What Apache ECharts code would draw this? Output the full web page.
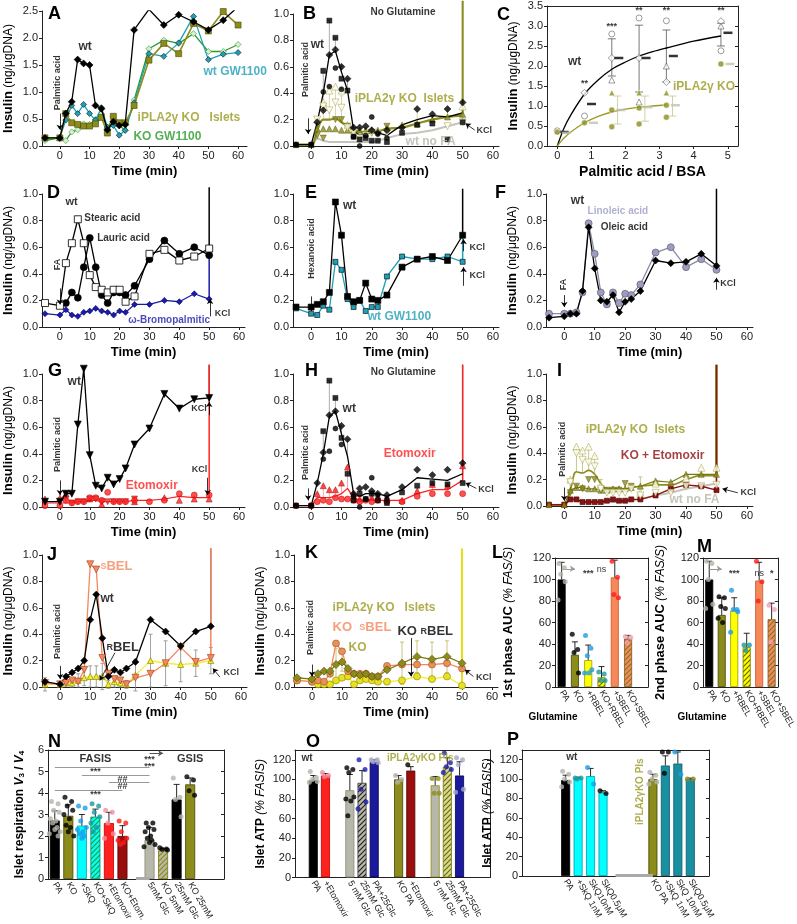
<!DOCTYPE html>
<html><head><meta charset="utf-8">
<script src="https://cdn.jsdelivr.net/npm/echarts@6/dist/echarts.min.js"></script>
<style>html,body{margin:0;padding:0;background:#fff}#c{width:797px;height:924px}</style>
</head><body><div id="c"></div>
<script>
const FONT = '"Liberation Sans", Arial, sans-serif';
const AX = '#222';
// ---------------- DATA ----------------
const T  = [-5,0,2,4,6,8,10,12,14,16,18,20,22,25,30,35,40,45,50];
const TA = [-5,0,2,4,6,8,10,12,14,16,18,20,22,25,30,35,40,45,50,55,60];
const timeTicks = [0,10,20,30,40,50,60];
// A
const A_wt   = [0.15,0.15,0.6,0.82,1.6,1.53,1.5,0.75,0.69,0.3,0.45,0.38,0.4,2.15,2.53,2.24,2.43,2.3,2.15,2.33,2.58];
const A_gw   = [0.15,0.15,0.48,0.75,0.6,0.77,0.6,0.48,0.71,0.35,0.38,0.2,0.29,0.8,1.71,1.66,1.91,2.4,1.6,1.7,1.73];
const A_ko   = [0.15,0.15,0.6,0.43,0.4,0.37,0.37,0.41,0.53,0.24,0.55,0.43,0.43,0.75,1.59,1.9,1.71,2.27,2.13,2.49,2.24];
const A_kogw = [0.1,0.15,0.1,0.26,0.3,0.41,0.4,0.49,0.6,0.32,0.54,0.38,0.29,0.85,1.8,1.96,1.9,2.08,1.75,1.75,1.88];
// B
const B_wt   = [0.01,0.01,0.18,0.4,0.69,0.72,0.56,0.42,0.12,0.08,0.1,0.12,0.1,0.08,0.16,0.2,0.23,0.22,0.25];
const B_wtSq = [0.01,0.01,null,0.57,0.95,0.82,0.51,0.42,0.07,0.05,0.06,0.04,0.04,0.03,0.1,0.16,0.17,0.05,0.18];
const B_wtDi = [null,null,0.18,0.27,0.69,0.73,0.6,0.51,0.14,0.14,0.15,0.12,0.1,0.12,0.14,0.28,0.24,0.28,0.33];
const B_wtCi = [0.01,0.01,null,0.41,0.45,0.59,0.43,null,0.07,0.0,0.08,0.22,0.09,0.06,null,null,null,null,null];
const B_wtHi = [null,null,null,0.55,0.95,0.82,0.61,0.51,null,null,null,null,null,null,null,null,null,null,null];
const B_ko   = [0.01,0.01,0.12,0.2,0.2,0.21,0.18,0.15,0.12,0.11,0.1,0.1,0.11,0.13,0.14,0.17,0.2,0.22,0.23];
const B_koTF = [0.01,0.01,0.13,0.13,0.13,0.13,0.12,0.12,0.12,0.12,0.12,0.12,0.12,0.14,0.16,0.17,0.2,0.22,0.24];
const B_koTO = [null,null,0.2,0.33,0.42,0.45,0.42,0.16,null,null,null,null,null,null,null,null,null,null,0.3];
const B_koDF = [null,null,0.08,0.06,null,0.2,0.2,0.15,0.12,null,null,0.1,null,0.15,null,null,null,null,null];
const B_koDO = [null,null,0.2,0.3,0.27,0.33,0.29,0.14,0.1,0.06,0.08,0.1,0.1,0.1,null,null,null,0.15,0.18];
const B_koHi = [null,null,0.2,0.43,0.45,0.45,0.38,null,null,null,null,null,null,null,null,0.28,null,0.28,null];
const B_nofa = [0.01,0.01,0.06,0.04,0.03,0.03,0.03,0.03,0.03,0.03,0.03,0.03,0.04,0.06,0.09,0.1,0.12,0.15,0.18];
// C
const C_x      = [0,0.8,1.6,2.4,3.2,4.8];
const C_wtCirc = [0.38,0.75,2.8,3.2,3.13,2.38];
const C_wtDia  = [null,1.33,2.2,2.2,1.6,3.12];
const C_wtTri  = [null,null,1.65,1.1,2.0,3.0];
const C_wtMean = [0.35,1.05,2.2,2.2,2.25,2.83];
const C_koCirc = [0.35,0.58,0.48,0.55,0.72,2.05];
const C_koCir2 = [null,null,0.9,0.95,1.02,null];
const C_koTri  = [null,null,1.33,1.33,1.33,null];
const C_koMean = [0.33,0.58,0.9,0.97,1.02,2.05];
const C_wtErrX = [1.6,2.4,3.2,4.8], C_wtErrLo = [1.75,1.35,1.6,2.5], C_wtErrHi = [2.68,3.02,2.9,3.07];
const C_koErrX = [1.77,2.57,3.38], C_koErrLo = [0.55,0.62,0.75], C_koErrHi = [1.25,1.25,1.25];
const C_fitX   = [0,0.2,0.4,0.8,1.2,1.6,2.0,2.4,2.8,3.2,4.0,4.8];
const C_fitWt  = [0,0.45,0.78,1.3,1.65,1.92,2.1,2.25,2.36,2.45,2.62,2.75];
const C_fitKoX = [0,0.2,0.4,0.8,1.2,1.6,2.0,2.4,2.8,3.2];
const C_fitKo  = [0,0.2,0.35,0.58,0.74,0.85,0.92,0.97,1.0,1.03];
// D
const D_st = [0.18,0.16,0.48,0.63,0.81,0.63,0.39,0.3,0.28,0.26,0.28,0.28,0.19,0.23,0.55,0.58,0.5,0.53,0.59];
const D_la = [null,null,0.18,0.26,0.22,0.45,0.67,0.45,0.24,0.18,0.26,0.26,0.24,0.31,0.51,0.65,0.55,0.6,0.54];
const D_br = [0.1,0.09,0.13,0.09,0.08,0.11,0.12,0.14,0.12,0.11,0.09,0.12,0.11,0.17,0.17,0.2,0.19,0.25,0.21];
// E
const E_wt = [0.15,0.15,0.17,0.19,0.26,0.94,0.69,0.23,0.19,0.2,0.33,0.21,0.2,0.24,0.45,0.51,0.53,0.5,0.69];
const E_gw = [0.14,0.1,0.09,0.16,0.13,0.49,0.43,0.21,0.15,0.2,0.12,0.15,0.15,0.38,0.53,0.51,0.51,0.53,0.49];
// F
const F_li = [0.1,0.1,0.1,0.11,0.26,0.78,0.55,0.26,0.17,0.26,0.18,0.25,0.24,0.32,0.56,0.6,0.45,0.51,0.43];
const F_ol = [0.07,0.08,0.1,0.1,0.27,0.75,0.44,0.2,0.19,0.24,0.11,0.19,0.21,0.27,0.5,0.48,0.49,0.55,0.46];
// G
const G_wt   = [0.04,0.04,0.1,0.1,0.62,1.04,0.39,0.16,0.14,0.22,0.17,0.21,0.29,0.47,0.59,0.85,0.74,0.81,0.82];
const G_eto  = [0.03,0.03,0.03,0.03,0.04,0.04,0.05,0.05,0.04,0.04,0.04,0.04,0.04,0.05,0.05,0.06,0.08,0.07,0.07];
const G_etoC = [0.01,0.01,0.05,0.03,0.04,0.04,0.07,0.07,0.05,0.11,0.04,0.04,0.04,0.05,0.04,0.05,0.1,0.09,0.09];
const G_etoT = [0.06,0.07,0.1,null,null,null,0.06,null,0.02,null,null,null,null,0.04,null,0.07,0.05,0.06,0.06];
const G_etoD = [null,null,0.06,0.03,0.04,0.04,0.06,0.06,0.04,0.04,0.04,0.04,0.04,0.06,null,null,null,null,null];
// H
const H_wt   = [0.01,0.01,0.18,0.4,0.68,0.72,0.55,0.38,0.1,0.08,0.1,0.1,0.1,0.08,0.13,0.22,0.21,0.2,0.25];
const H_wtSq = [0.01,0.01,null,0.57,0.95,0.82,0.52,0.25,0.05,0.1,0.06,0.1,0.05,0.03,0.11,0.16,0.18,0.17,0.18];
const H_wtDi = [null,null,0.18,0.41,0.69,0.72,0.61,0.51,0.1,0.14,0.15,0.12,0.1,0.09,0.15,0.28,0.24,0.28,0.33];
const H_wtCi = [0.01,0.01,null,0.36,0.42,0.59,0.47,null,0.08,0.0,0.06,0.22,0.09,0.06,null,null,null,null,null];
const H_wtHi = [null,null,null,0.57,0.95,0.82,0.61,0.51,null,null,null,null,null,null,null,null,null,null,null];
const H_eto  = [0.01,0.01,0.07,0.07,0.07,0.08,0.1,0.14,0.07,0.05,0.05,0.05,0.05,0.05,0.05,0.1,0.13,0.13,0.2];
const H_etoT = [null,null,0.1,0.16,0.13,0.13,0.18,0.3,0.1,0.06,null,0.07,0.07,0.06,0.05,0.12,0.17,0.16,0.31];
const H_etoC = [0.01,0.01,0.04,0.05,0.04,0.07,0.06,0.06,0.05,0.04,0.05,0.04,0.05,0.04,0.04,0.08,0.1,0.1,0.1];
// I
const I_ko   = [0.01,0.01,0.12,0.26,0.25,0.27,0.24,0.17,0.13,0.13,0.13,0.13,0.14,0.15,0.16,0.16,0.2,0.23,0.23];
const I_koTF = [0.01,0.01,0.12,0.14,0.14,0.13,0.13,0.12,0.12,0.13,0.13,0.13,0.14,0.15,0.19,0.18,0.24,0.24,0.24];
const I_koDF = [null,null,0.1,0.15,0.13,0.2,0.2,0.12,0.12,0.12,0.12,0.17,0.15,null,null,null,null,null,null];
const I_koTO = [null,null,0.2,0.45,0.42,0.45,0.38,0.15,null,null,null,null,null,0.1,0.17,null,0.21,0.29,0.29];
const I_koDO = [null,null,0.18,0.4,0.35,0.33,0.3,0.13,0.1,0.1,0.1,0.1,0.13,0.08,0.1,0.1,0.15,0.15,0.16];
const I_koHi = [null,null,0.2,0.45,0.42,0.45,0.38,0.2,null,null,null,null,null,0.22,null,null,null,0.29,0.3];
const I_keto = [0.01,0.01,0.05,0.05,0.03,0.03,0.03,0.03,0.04,0.05,0.04,0.04,0.05,0.05,0.08,0.13,0.16,0.15,0.12];
const I_nofa = [0.01,0.01,0.06,0.04,0.03,0.03,0.03,0.03,0.03,0.03,0.03,0.03,0.04,0.05,0.08,0.1,0.13,0.15,0.17];
// J
const J_wt   = [0.04,0.02,0.08,0.11,0.14,0.2,0.51,0.7,0.37,0.08,0.13,0.11,0.14,0.19,0.51,0.42,0.31,0.42,0.46];
const J_sbel = [0.03,0.02,0.03,0.05,0.04,0.13,0.93,0.89,0.22,0.1,0.06,0.05,0.02,0.07,0.1,0.18,0.3,0.19,0.22];
const J_rbel = [0.02,0.02,0.03,0.03,0.05,0.07,0.08,0.08,0.08,0.02,0.04,0.03,0.02,0.09,0.2,0.18,0.17,0.18,0.2];
const J_rErr = [0.05,0.02,0.02,0.03,0.05,0.06,0.08,0.08,0.1,0.03,0.04,0.03,0.03,0.12,0.2,0.17,0.13,0.1,0.1];
// K
const K_ko   = [0.07,0.06,0.1,0.12,0.12,0.17,0.19,0.14,0.1,0.09,0.1,0.08,0.08,0.13,0.18,0.23,0.21,0.23,0.18];
const K_sbel = [0.05,0.04,0.05,0.04,0.1,0.33,0.27,0.12,0.1,0.1,0.1,0.08,0.08,0.16,0.17,0.17,0.17,0.18,0.14];
const K_rbel = [0.05,0.04,0.02,0.02,0.02,0.05,0.07,0.08,0.02,0.05,0.06,0.05,0.04,0.04,0.05,0.08,0.06,0.08,0.01];
const K_kErr = [null,null,null,null,null,0.12,0.07,null,null,null,null,null,null,null,0.16,0.12,0.13,0.12,null];
// L, M
const L_cats = ['PA','KO','+RBEL','KO+RBEL','+SBEL','KO+SBEL',' '];
const L_mean = [100,30,25,9,102,45,null];
const L_err  = [116,42,39,19,118,48,null];
const L_dots = [[115,111,105,98,81],[49,35,32,13],[48,36,29,16,13,13],[14,12,6,6],[117,102,86,83],[47,46,41],[]];
const M_cats = ['PA','KO','+RBEL','KO+RBEL','+SBEL','KO+SBEL'];
const M_mean = [100,67,71,37,99,63];
const M_err  = [117,83,83,50,116,78];
const M_dots = [[117,115,100,77,73],[84,83,75,73,64,60],[90,72,72,70,51],[39,39,34],[117,98,80],[76,72,42]];
// N
const N_cats = ['PA','KO','+SkQ','KO+SkQ','+Etomoxir','KO+Etom.',' ','5mM Glc','KO 5mM','25mM Glc','KO 25mM','  ','   '];
const N_mean = [2.72,2.94,2.48,2.9,2.6,2.0,null,1.82,1.33,3.7,4.4,null,null];
const N_err  = [3.17,3.45,3.0,3.25,3.1,2.48,null,2.4,1.41,4.4,4.7,null,null];
const N_dots = [[3.6,3.5,3.2,3.1,2.8,2.7,2.6,2.4,2.3,2.2,2.1,2.0],[3.8,3.6,3.4,3.2,3.0,2.8,2.5,2.4,2.2,2.0],
  [3.4,3.3,2.7,2.4,2.3,2.2,2.1,2.0,1.9],[3.5,3.4,3.1,2.9,2.6,2.4,2.2],[3.2,3.1,2.6,2.1,1.9],[2.7,2.6,2.2,1.9,1.8,1.7,1.6],[],
  [2.6,2.6,2.4,2.3,2.2,2.0,1.9,1.8,1.7,1.6,1.5],[1.45,1.4,1.38,1.35],[4.7,3.8,3.7,2.9],[4.75,4.6,4.1,3.9],[],[]];
// O
const O_cats = [' ','PA','+Etomoxir','  ','5 mM Glc','25mM Glc','PA+25Glc','   ','KO PA','+Etomoxir ','    ','5 mM Glc ','25mM Glc ','PA+25Glc ','     ','      '];
const O_mean = [null,99,104,null,89,96.5,117.5,null,100,109,null,94,113,104,null,null];
const O_err  = [null,104,106,null,105,109,120,null,104,113,null,103,122,118,null,null];
const O_dots = [[],[108,102,100,98,97],[107,104,103],[],[112,110,107,82,80,78,63],[120,110,90,77,70],[120,120,118,117],[],
  [104,100,97],[115],[],[101,101,86,86],[127,117,113,110,107],[122,120,115,90,87],[],[]];
// P
const P_cats = [' ','  ','   ','PA','+SkQ 1nM','SkQ10nM','SkQ0.5μM','    ','     ','      ','KO PA','+SkQ 1nM ','SkQ 10nM','SkQ0.5μM ','       '];
const P_mean = [null,null,null,99,101,103,86,null,null,null,100,114,116,100,null];
const P_err  = [null,null,null,104,102,111,88,null,null,null,105,124,128,101,null];
const P_dots = [[],[],[],[108,105,100,97,92],[101,101,100],[112,95],[88,85],[],[],[],[107,104,100,97,95],[128,128,106],[128,105],[100,100],[]];
const ATP_ticks = [0,20,40,60,80,100,120];

// ---------------- STYLE ----------------
const BLK='#000', OLV='#8c8c1c', OLVT='#9a9a22', CYN='#1f9fb8', GRN='#2a9a2a', GRY='#c4c4bc', BLU='#1c1ca8',
      RED='#ff2424', DRED='#8e1010', ORG='#f6875d', YEL='#f2ee2c', LAV='#9c9cc4', DGR='#b5b5aa';
function hatch(bg, fg){
  const c=document.createElement('canvas'); c.width=5; c.height=5; const g=c.getContext('2d');
  g.fillStyle=bg; g.fillRect(0,0,5,5); g.strokeStyle=fg; g.lineWidth=1.2;
  g.beginPath(); g.moveTo(0,5); g.lineTo(5,0); g.moveTo(-1,1); g.lineTo(1,-1); g.moveTo(4,6); g.lineTo(6,4); g.stroke();
  return {image:c, repeat:'repeat'};
}

const grids=[], xAxes=[], yAxes=[], series=[], graphics=[];
const labelStyle={fontSize:11, color:'#222', fontFamily:FONT};
const VERT={rotate:90, position:'inside', align:'center', verticalAlign:'middle', fontSize:9};
const CEN={position:'inside', align:'center', verticalAlign:'middle'};
function grid(l,t,w,h){ grids.push({left:l, top:t, width:w, height:h, containLabel:false}); return grids.length-1; }
function insName(gap){ return {name:'{b|Insulin} {n|(ng/μgDNA)}', nameLocation:'middle', nameGap:gap, nameRotate:90,
  nameTextStyle:{color:'#000', fontFamily:FONT, rich:{b:{fontWeight:'bold',fontSize:13,fontFamily:FONT,color:'#000'}, n:{fontSize:12,fontFamily:FONT,color:'#000'}}}}; }
function boxAxes(gi, ymax, yint, yticks){
  xAxes.push({gridIndex:gi, type:'value', position:'top', min:0, max:1, axisLine:{show:true,onZero:false,lineStyle:{color:AX}}, axisTick:{show:false}, axisLabel:{show:false}, splitLine:{show:false}});
  const t={show:true, inside:true, length:3, lineStyle:{color:AX}}; if (yticks) t.customValues=yticks;
  yAxes.push({gridIndex:gi, type:'value', position:'right', min:0, max:ymax, interval:yint, axisLine:{show:true,onZero:false,lineStyle:{color:AX}}, axisTick:t, axisLabel:{show:false}, splitLine:{show:false}});
}
function tcPanel(l,t,w,h,o){
  const gi=grid(l,t,w,h), xi=xAxes.length, yi=yAxes.length;
  const xt=o.xticks||timeTicks;
  xAxes.push({gridIndex:gi, type:'value', min:o.xmin==null?-6:o.xmin, max:o.xmax==null?62:o.xmax, position:'bottom',
    axisLine:{show:true,onZero:false,lineStyle:{color:AX,width:1}},
    axisTick:{show:true,length:3,customValues:xt,lineStyle:{color:AX}},
    axisLabel:Object.assign({customValues:xt, margin:4}, labelStyle), splitLine:{show:false},
    name:o.xname||'Time (min)', nameLocation:'middle', nameGap:o.xgap||19,
    nameTextStyle:{fontWeight:'bold', fontSize:o.xnfs||13, color:'#000', fontFamily:FONT}});
  const ya={gridIndex:gi, type:'value', min:0, max:o.ymax||1, interval:o.yint||0.2, position:'left',
    axisLine:{show:true,onZero:false,lineStyle:{color:AX,width:1}}, axisTick:{show:true,length:3,lineStyle:{color:AX}},
    axisLabel:Object.assign({margin:4, formatter:v=>v.toFixed(1)}, labelStyle), splitLine:{show:false}};
  if (o.yname) Object.assign(ya, insName(o.ygap||27));
  yAxes.push(ya);
  if (o.box) boxAxes(gi, o.ymax, o.yint);
  return {xi, yi};
}
function pts(xs, ys){ const r=[]; xs.forEach((x,i)=>{ if (ys[i]!=null) r.push([x,ys[i]]); }); return r; }
function Ln(ax, xs, ys, o){
  series.push({type:'line', xAxisIndex:ax.xi, yAxisIndex:ax.yi, data:pts(xs,ys), animation:false, silent:true,
    symbol:o.sym||'none', symbolSize:o.size||6, symbolRotate:o.rot||0, smooth:o.smooth||false,
    lineStyle:{color:o.color, width:o.w||1.3}, itemStyle:{color:o.fill||o.color, borderColor:o.border||'#000', borderWidth:o.bw==null?0.6:o.bw},
    z:o.z||3, clip:o.clip===undefined?true:o.clip});
}
function Sc(ax, xs, ys, o){
  const s={type:'scatter', xAxisIndex:ax.xi, yAxisIndex:ax.yi, data:pts(xs,ys), animation:false, silent:true,
    symbol:o.sym||'circle', symbolSize:o.size||6, symbolRotate:o.rot||0,
    itemStyle:{color:o.fill||o.color, borderColor:o.border||'#000', borderWidth:o.bw==null?0.6:o.bw}, z:o.z||4, clip:false};
  if (o.off) s.symbolOffset=o.off;
  series.push(s);
}
function Er(ax, xs, lo, hi, o){
  const d=[]; xs.forEach((x,i)=>{ if (lo[i]!=null && hi[i]!=null) d.push([x,lo[i],hi[i]]); });
  series.push({type:'custom', xAxisIndex:ax.xi, yAxisIndex:ax.yi, data:d, silent:true, animation:false, z:o.z||2, clip:false,
    encode:{x:0, y:[1,2]},
    renderItem:(p,api)=>{ const x=api.value(0); const a=api.coord([x,api.value(1)]), b=api.coord([x,api.value(2)]); const c=o.cap||2;
      const st={stroke:o.color, lineWidth:o.w||0.8};
      const ch=[{type:'line', shape:{x1:a[0],y1:a[1],x2:b[0],y2:b[1]}, style:st},
                {type:'line', shape:{x1:b[0]-c,y1:b[1],x2:b[0]+c,y2:b[1]}, style:st}];
      if (o.both) ch.push({type:'line', shape:{x1:a[0]-c,y1:a[1],x2:a[0]+c,y2:a[1]}, style:st});
      return {type:'group', children:ch}; }});
}
function spike(ax, x, y1, y2, color, w, z){ Ln(ax, [x,x], [y1,y2], {color, w:w||1.5, clip:false, z:z||2}); }
function notes(ax, items, arrows){
  const s={type:'scatter', xAxisIndex:ax.xi, yAxisIndex:ax.yi, silent:true, animation:false, clip:false, symbolSize:1, z:10,
    itemStyle:{color:'rgba(0,0,0,0)'},
    data:items.map(it=>({value:[it[0],it[1]], label:Object.assign({show:true, formatter:it[2], position:'right', distance:0,
      fontFamily:FONT, fontWeight:'bold', fontSize:12, color:'#000'}, it[3]||{})}))};
  if (arrows && arrows.length) s.markLine={silent:true, animation:false, symbolSize:5, precision:4, label:{show:false},
    lineStyle:{color:'#000', width:0.8, type:'solid'},
    data:arrows.map(a=>[{coord:[a[0],a[1]], symbol:'none', lineStyle:{color:a[4]||'#000', width:a[6]||(a[4]?1:0.8), type:'solid'}},
                        {coord:[a[2],a[3]], symbol:a[5]?'none':'arrow'}])};
  series.push(s);
}
function jit(k){ const p=[-3,3,-1,4,-4,1,-2,2,0,5,-5,3]; return p[k%p.length]; }
function barPanel(l,t,w,h,o){
  const gi=grid(l,t,w,h), xi=xAxes.length, yi=yAxes.length;
  xAxes.push({gridIndex:gi, type:'category', data:o.cats, position:'bottom', boundaryGap:true,
    axisLine:{show:true,onZero:false,lineStyle:{color:AX}}, axisTick:{show:false},
    axisLabel:{interval:0, rotate:-60, fontSize:9, color:'#222', fontFamily:FONT, margin:4}, splitLine:{show:false}});
  const tk={show:true,length:3,lineStyle:{color:AX}}, lb=Object.assign({margin:4}, labelStyle);
  if (o.yticks){ tk.customValues=o.yticks; lb.customValues=o.yticks; }
  yAxes.push({gridIndex:gi, type:'value', min:0, max:o.ymax, interval:o.yint, position:'left',
    axisLine:{show:true,onZero:false,lineStyle:{color:AX}}, axisTick:tk, axisLabel:lb, splitLine:{show:false},
    name:o.yname, nameLocation:'middle', nameGap:o.ygap, nameRotate:90, nameTextStyle:{color:'#000', fontFamily:FONT, rich:o.rich}});
  boxAxes(gi, o.ymax, o.yint, o.yticks);
  const ax={xi, yi};
  series.push({type:'bar', xAxisIndex:xi, yAxisIndex:yi, barWidth:o.bw, animation:false, silent:true, z:2,
    data:o.mean.map((v,i)=> v==null?'-':{value:v, itemStyle:{color:o.fill[i], borderColor:o.border[i], borderWidth:0.8}})});
  const idx=o.cats.map((c,i)=>i);
  Er(ax, idx, o.mean, o.err, {color:'#111', cap:3, w:0.9, z:3});
  const dd=[]; o.dots.forEach((arr,i)=>arr.forEach((v,k)=>dd.push({value:[i,v], symbolOffset:[jit(k)*o.jw,0], itemStyle:{color:o.dotc[i]}})));
  series.push({type:'scatter', xAxisIndex:xi, yAxisIndex:yi, data:dd, symbolSize:o.ds||5, animation:false, silent:true, clip:false,
    itemStyle:{borderWidth:0}, z:5});
  return ax;
}

// ---------------- PANELS ----------------
// A
const pA = tcPanel(42, 11, 205, 135, {xmax:63, ymax:2.5, yint:0.5, yname:true});
Ln(pA, TA, A_wt,   {color:BLK, sym:'diamond', size:7, fill:BLK, z:5});
Ln(pA, TA, A_gw,   {color:CYN, sym:'diamond', size:6, fill:CYN, border:'#111', z:4});
Ln(pA, TA, A_kogw, {color:GRN, sym:'diamond', size:6, fill:'#d8f0d0', border:GRN, z:3});
Ln(pA, TA, A_ko,   {color:OLV, w:1.6, sym:'rect', size:6, fill:OLV, border:'#4a4a00', z:4});
notes(pA, [[6.1,1.83,'wt'],[48.2,1.37,'wt GW1100',{color:CYN}],[26,0.52,'iPLA2γ KO   Islets',{color:OLVT}],
  [24.6,0.17,'KO GW1100',{color:GRN}],[-0.7,1.17,'Palmitic acid',VERT]], [[0,0.6,0,0.3]]);

// B
const pB = tcPanel(293, 14, 206, 132, {});
spike(pB, 50, 0.18, 1.1, GRY, 1.5, 1); spike(pB, 50, 0.24, 1.1, OLV, 2, 2);
Ln(pB, T, B_nofa, {color:GRY, w:2, z:1});
Er(pB, T, B_wt, B_wtHi, {color:'#999', cap:0});
Er(pB, T, B_ko, B_koHi, {color:'#cccc99', cap:0});
Ln(pB, T, B_ko, {color:OLV, w:2.2, smooth:0.4, z:3});
Ln(pB, T, B_wt, {color:BLK, w:1.3, z:3});
Sc(pB, T, B_koTF, {sym:'triangle', size:6, fill:OLV, border:'#555500'});
Sc(pB, T, B_koTO, {sym:'triangle', size:7, fill:'#fff', border:OLVT});
Sc(pB, T, B_koDF, {sym:'triangle', rot:180, size:6, fill:OLV, border:'#555500'});
Sc(pB, T, B_koDO, {sym:'triangle', rot:180, size:7, fill:'#fff', border:OLVT});
Sc(pB, T, B_wtSq, {sym:'rect', size:5, fill:BLK});
Sc(pB, T, B_wtDi, {sym:'diamond', size:7, fill:BLK});
Sc(pB, T, B_wtCi, {sym:'circle', size:5, fill:BLK});
notes(pB, [[30.3,1.015,'No Glutamine',Object.assign({fontSize:10},CEN)],[-0.3,0.77,'wt'],[-2,0.58,'Palmitic acid',VERT],
  [14.2,0.36,'iPLA2γ KO  Islets',{color:OLVT}],[54.4,0.12,'KCl',{fontSize:9}],[31,0.03,'wt no FA',{color:DGR}]],
  [[-1,0.21,-1,0.09],[54,0.12,51,0.17]]);

// C
const pC = tcPanel(547, 6, 191, 140, {xmin:-0.3, xmax:5.3, xticks:[0,1,2,3,4,5], ymax:3.5, yint:0.5, yname:true, box:true,
  xname:'Palmitic acid / BSA', xnfs:14});
Ln(pC, C_fitX, C_fitWt, {color:BLK, w:1.3, smooth:0.3});
Ln(pC, C_fitKoX, C_fitKo, {color:OLVT, w:1.3, smooth:0.3});
Er(pC, C_wtErrX, C_wtErrLo, C_wtErrHi, {color:'#555', cap:4, both:true});
Er(pC, C_koErrX, C_koErrLo, C_koErrHi, {color:'#c4c490', cap:4, both:true});
Sc(pC, C_x, C_wtCirc, {sym:'circle', size:6, fill:'#fff', border:'#333'});
Sc(pC, C_x, C_wtDia,  {sym:'diamond', size:7, fill:'#fff', border:'#333'});
Sc(pC, C_x, C_wtTri,  {sym:'triangle', size:6, fill:'#fff', border:'#333'});
Sc(pC, C_x, C_wtMean, {sym:'rect', size:[9,2.5], fill:BLK, bw:0, off:[7,0]});
Sc(pC, C_x, C_koCirc, {sym:'circle', size:6, fill:OLV, border:'#fff'});
Sc(pC, C_x, C_koCir2, {sym:'circle', size:6, fill:OLV, border:'#fff'});
Sc(pC, C_x, C_koTri,  {sym:'triangle', size:6, fill:OLV, border:'#fff'});
Sc(pC, C_x, C_koMean, {sym:'rect', size:[9,2.5], fill:'#c0c0b0', bw:0, off:[9,0]});
const STAR=Object.assign({fontSize:9},CEN);
notes(pC, [[0.3,2.1,'wt'],[3.38,1.48,'iPLA2γ KO',{color:OLVT}],[0.8,1.55,'**',STAR],[1.6,2.98,'***',STAR],
  [2.4,3.38,'**',STAR],[3.2,3.38,'**',STAR],[4.8,3.38,'**',STAR]]);

// D
const pD = tcPanel(42, 194, 203, 133, {yname:true});
spike(pD, 50, 0.21, 0.55, BLU, 1.5); spike(pD, 50, 0.55, 1.05, BLK, 1.5);
Ln(pD, T, D_br, {color:BLU, sym:'diamond', size:6, fill:BLU, border:'#000066'});
Ln(pD, T, D_la, {color:BLK, sym:'circle', size:7, fill:BLK});
Ln(pD, T, D_st, {color:BLK, sym:'rect', size:7, fill:'#fff', border:'#000', bw:0.8});
notes(pD, [[1.7,0.94,'wt',{fontSize:11}],[8,0.82,'Stearic acid',{fontSize:10}],[12.3,0.67,'Lauric acid',{fontSize:10}],
  [-0.7,0.47,'FA',VERT],[22.7,0.05,'ω-Bromopalmitic',{fontSize:10,color:BLU}],[51.7,0.1,'KCl',{fontSize:9}]],
  [[0,0.29,0,0.17],[50.3,0.08,50.3,0.21]]);

// E
const pE = tcPanel(293, 194, 206, 133, {});
spike(pE, 50, 0.49, 0.69, CYN, 1.5); spike(pE, 50, 0.69, 1.04, BLK, 1.5);
Ln(pE, T, E_gw, {color:CYN, sym:'rect', size:5, fill:CYN, border:'#000'});
Ln(pE, T, E_wt, {color:BLK, sym:'rect', size:6, fill:BLK});
notes(pE, [[10.3,0.91,'wt'],[0,0.59,'Hexanoic acid',VERT],[52.1,0.6,'KCl',{fontSize:9}],[52.1,0.39,'KCl',{fontSize:9}],
  [18.5,0.075,'wt GW1100',{color:CYN}]], [[0,0.23,0,0.12],[50.3,0.57,50.3,0.66],[50.3,0.31,50.3,0.45]]);

// F
const pF = tcPanel(546, 194, 207, 133, {yname:true});
spike(pF, 50, 0.46, 1.04, BLK, 1.5);
Ln(pF, T, F_li, {color:'#8a8aaa', sym:'circle', size:7, fill:LAV, border:'#555'});
Ln(pF, T, F_ol, {color:BLK, sym:'diamond', size:7, fill:BLK});
notes(pF, [[2,0.95,'wt'],[7.5,0.87,'Linoleic acid',{fontSize:10,color:LAV}],[11.8,0.75,'Oleic acid',{fontSize:10}],
  [-0.3,0.32,'FA',VERT],[51.1,0.33,'KCl',{fontSize:9}]], [[0,0.24,0,0.15],[50,0.28,50,0.37]]);

// G
const pG = tcPanel(42, 374, 203, 133, {yname:true});
spike(pG, 50, 0.82, 1.07, BLK, 1); spike(pG, 50, 0.07, 1.07, RED, 1.5);
Ln(pG, T, G_eto, {color:RED, w:1.2});
Sc(pG, T, G_etoT, {sym:'triangle', size:6, fill:RED, border:'#900'});
Sc(pG, T, G_etoD, {sym:'triangle', rot:180, size:6, fill:RED, border:'#900'});
Sc(pG, T, G_etoC, {sym:'circle', size:6, fill:RED, border:'#b00'});
Ln(pG, T, G_wt, {color:BLK, sym:'triangle', rot:180, size:7, fill:BLK, clip:false, z:5});
notes(pG, [[2.4,0.94,'wt'],[-0.7,0.47,'Palmitic acid',VERT],[21.9,0.16,'Etomoxir',{color:RED}],
  [43.8,0.74,'KCl',{fontSize:9}],[44,0.28,'KCl',{fontSize:9}]], [[0,0.2,0,0.09],[50,0.69,50,0.79],[49.5,0.22,49.5,0.09]]);

// H
const pH = tcPanel(293, 374, 206, 133, {});
spike(pH, 50, 0.25, 1.07, BLK, 1); spike(pH, 50, 0.2, 1.07, RED, 1.5);
Er(pH, T, H_wt, H_wtHi, {color:'#999', cap:0});
Er(pH, T, H_eto, H_etoT, {color:'#f09090', cap:0});
Ln(pH, T, H_eto, {color:RED, w:1.3});
Ln(pH, T, H_wt, {color:BLK, w:1.3});
Sc(pH, T, H_etoT, {sym:'triangle', size:6, fill:RED, border:'#900'});
Sc(pH, T, H_etoC, {sym:'circle', size:6, fill:RED, border:'#b00'});
Sc(pH, T, H_wtSq, {sym:'rect', size:5, fill:BLK});
Sc(pH, T, H_wtDi, {sym:'diamond', size:7, fill:BLK});
Sc(pH, T, H_wtCi, {sym:'circle', size:5, fill:BLK});
notes(pH, [[30.4,1.015,'No Glutamine',Object.assign({fontSize:10},CEN)],[10.2,0.74,'wt'],[-2,0.41,'Palmitic acid',VERT],
  [23.8,0.4,'Etomoxir',{color:RED}],[55,0.135,'KCl',{fontSize:9}]], [[-1,0.14,-1,0.05],[54.5,0.14,51,0.18]]);

// I
const pI = tcPanel(546, 374, 207, 132, {yname:true});
spike(pI, 50, 0.17, 1.07, GRY, 1.5, 1); spike(pI, 50, 0.12, 1.07, DRED, 1.5, 2); spike(pI, 50, 0.23, 1.07, OLV, 2.5, 1);
Ln(pI, T, I_nofa, {color:GRY, w:2, z:1});
Er(pI, T, I_ko, I_koHi, {color:'#b8b870', cap:2});
Ln(pI, T, I_ko, {color:OLV, w:1.6, smooth:0.4});
Ln(pI, T, I_koTF, {color:'#7a7a10', w:1.2});
Ln(pI, T, I_keto, {color:DRED, w:1.4, sym:'rect', size:5, fill:DRED, border:'#400'});
Sc(pI, T, I_koTF, {sym:'triangle', size:6, fill:OLV, border:'#555500'});
Sc(pI, T, I_koDF, {sym:'triangle', rot:180, size:6, fill:OLV, border:'#555500'});
Sc(pI, T, I_koTO, {sym:'triangle', size:7, fill:'#fff', border:OLVT});
Sc(pI, T, I_koDO, {sym:'triangle', rot:180, size:7, fill:'#fff', border:OLVT});
notes(pI, [[6.9,0.58,'iPLA2γ KO  Islets',{color:OLVT}],[18.4,0.38,'KO + Etomoxir',{color:DRED}],[-0.7,0.43,'Palmitic acid',VERT],
  [57.7,0.1,'KCl',{fontSize:9}],[34.4,0.045,'wt no FA',{color:DGR}]], [[0,0.14,0,0.04],[57,0.1,52,0.13]]);

// J
const pJ = tcPanel(42, 555, 205, 132, {yname:true});
spike(pJ, 50, 0.46, 1.05, BLK, 1); spike(pJ, 50, 0.22, 1.05, ORG, 1.5);
Er(pJ, T, J_rbel.map((v,i)=>v-J_rErr[i]), J_rbel.map((v,i)=>v+J_rErr[i]), {color:'#888', cap:2, both:true});
Ln(pJ, T, J_rbel, {color:YEL, w:1.3, sym:'triangle', size:6, fill:YEL, border:'#777700'});
Ln(pJ, T, J_sbel, {color:ORG, w:1.3, sym:'triangle', rot:180, size:7, fill:ORG, border:'#a04020'});
Ln(pJ, T, J_wt, {color:BLK, w:1.3, sym:'diamond', size:7, fill:BLK});
const richO={s:{fontSize:9,fontWeight:'bold',fontFamily:FONT,color:ORG}, b:{fontSize:13,fontWeight:'bold',fontFamily:FONT,color:ORG}};
const richK={s:{fontSize:9,fontWeight:'bold',fontFamily:FONT,color:'#000'}, b:{fontSize:13,fontWeight:'bold',fontFamily:FONT,color:'#000'}};
notes(pJ, [[13.2,0.91,'{s|S}{b|BEL}',{rich:richO}],[13.2,0.67,'wt'],[15.2,0.3,'{s|R}{b|BEL}',{rich:richK}],
  [-0.7,0.42,'Palmitic acid',VERT],[54,0.11,'KCl',{fontSize:9}]], [[18.2,0.26,13.2,0.05],[53,0.075,50.7,0.14],[0,0.16,0,0.06]]);

// K
const pK = tcPanel(294, 555, 204, 132, {yname:true});
spike(pK, 50, 0.01, 1.05, '#e6de10', 2);
Er(pK, T, K_ko.map((v,i)=>K_kErr[i]==null?null:v-K_kErr[i]), K_ko.map((v,i)=>K_kErr[i]==null?null:v+K_kErr[i]), {color:'#b8b860', cap:2, both:true});
Ln(pK, T, K_rbel, {color:YEL, w:1.3, sym:'circle', size:7, fill:'#e8e020', border:'#888800'});
Ln(pK, T, K_sbel, {color:ORG, w:1.3, sym:'circle', size:7, fill:'#e8905a', border:'#a05020'});
Ln(pK, T, K_ko, {color:'#7c7c10', w:1.3, sym:'diamond', size:8, fill:'#8c8c1c', border:'#4a4a00'});
notes(pK, [[6.7,0.6,'iPLA2γ KO   Islets',{color:OLVT}],[6.7,0.45,'{b|KO  }{s|S}{b|BEL}',{rich:richO}],
  [28.3,0.42,'{b|KO }{s|R}{b|BEL}',{rich:richK}],[12,0.3,'KO',{color:OLVT}],[-0.5,0.45,'Palmitic acid',VERT],[54.5,0.07,'KCl',{fontSize:9}]],
  [[33,0.37,33,0.08],[53.8,0.08,51,0.13],[0,0.17,0,0.08]]);

// L, M
const aucRich={b:{fontWeight:'bold',fontSize:13,fontFamily:FONT,color:'#000'}, i:{fontStyle:'italic',fontSize:12,fontFamily:FONT,color:'#000'}};
const LM_fill=[BLK,OLV,'#ffff00',hatch('#ffff00','#6a6a00'),'#f8885a',hatch('#f8885a','#7a7a20'),BLK];
const LM_bord=['#000','#444400','#999900','#777700','#c05a30','#7a5a20','#000'];
const LM_dotc=['#b4b4aa','#000','#1e9be8','#1a9aa0','#ff1a1a','#f4a0b4','#000'];
const pL = barPanel(555, 558, 93, 129, {cats:L_cats, mean:L_mean, err:L_err, dots:L_dots, ymax:120, yint:20,
  yname:'{b|1st phase AUC} {i|(% FAS/S)}', rich:aucRich, ygap:40, fill:LM_fill, border:LM_bord, dotc:LM_dotc, bw:8, jw:0.9, ds:5});
notes(pL, [[1.55,106,'***',STAR],[3.45,109,'ns',Object.assign({fontSize:9,fontWeight:'normal'},CEN)]], [[0.15,110,1.0,110,'#999']]);
const pM = barPanel(703, 558, 83, 129, {cats:M_cats, mean:M_mean, err:M_err, dots:M_dots, ymax:120, yint:20,
  yname:'{b|2nd phase AUC} {i|(% FAS/S)}', rich:aucRich, ygap:36, fill:LM_fill, border:LM_bord, dotc:LM_dotc, bw:8, jw:0.9, ds:5});
notes(pM, [[1.6,106,'***',STAR],[3.5,106,'ns',Object.assign({fontSize:9,fontWeight:'normal'},CEN)],[4.75,106,'*',STAR]], [[0.15,110,1.0,110,'#999']]);

// N
const nRich={b:{fontWeight:'bold',fontSize:12,fontFamily:FONT,color:'#000'}, i:{fontWeight:'bold',fontStyle:'italic',fontSize:12,fontFamily:FONT,color:'#000'},
  s:{fontWeight:'bold',fontSize:8,fontFamily:FONT,color:'#000',verticalAlign:'bottom'}};
const N_fill=[BLK,OLV,'#00ffff',hatch('#00ffff','#2a9a2a'),'#ff2020','#9a0e0e',null,'#b8b8aa',hatch('#b8b8aa','#8a8a10'),BLK,OLV,null,null];
const N_bord=['#000','#444400','#0099aa','#0a8a6a','#b00','#500','#000','#888878','#777700','#000','#444400','#000','#000'];
const N_dotc=['#b4b4aa','#000','#1e9be8','#1a9aa0','#f48ca0','#ff1a1a','#000','#000','#000','#b4b4aa','#000','#000','#000'];
const pN = barPanel(48, 750, 176, 131, {cats:N_cats, mean:N_mean, err:N_err, dots:N_dots, ymax:6, yint:1,
  yname:'{b|Islet respiration }{i|V}{s|3}{b| / }{i|V}{s|4}', rich:nRich, ygap:22, fill:N_fill, border:N_bord, dotc:N_dotc, bw:10, jw:1.1, ds:5});
notes(pN, [[2.75,5.59,'FASIS',Object.assign({fontSize:11},CEN)],[9.56,5.59,'GSIS',Object.assign({fontSize:11},CEN)],
  [3.1,5.0,'***',STAR],[5.0,4.64,'##',STAR],[5.2,4.32,'##',STAR],[2.75,3.95,'***',STAR],[6.66,5.55,'***',STAR],[7.48,5.24,'***',STAR]],
  [[0,5.18,7,5.18,'#999',1],[2,4.81,7,4.81,'#999',1],[4,4.49,7,4.49,'#999',1],[0,4.12,5,4.12,'#999',1],[6.7,5.85,8.4,5.85,'#555'],
   [5.55,0.02,6.6,0.02,'#aaa',1,3]]);

// O
const atpRich={b:{fontWeight:'bold',fontSize:12,fontFamily:FONT,color:'#000'}, i:{fontStyle:'italic',fontSize:12,fontFamily:FONT,color:'#000'}};
const O_fill=[null,BLK,'#ff2020',null,'#b8b8aa',hatch('#b8b8aa','#222'),'#1a1a9a',null,OLV,'#9a0e0e',null,'#b8b8aa',hatch('#d8d890','#6a6a10'),'#1a1a9a',null,null];
const O_bord=['#000','#000','#b00','#000','#888878','#333','#000055','#000','#444400','#500','#000','#8a8a10','#777700','#000055','#000','#000'];
const O_dotc=['#000','#b4b4aa','#f48ca0','#000','#000','#1c1cb0','#a8a8c8','#000','#b4b4aa','#000','#000','#8c8c1c','#1c1cb0','#a8a8c8','#000','#000'];
const pO = barPanel(295, 750, 195, 131, {cats:O_cats, mean:O_mean, err:O_err, dots:O_dots, ymax:130, yint:20, yticks:ATP_ticks,
  yname:'{b|Islet ATP} {i|(% FASIS)}', rich:atpRich, ygap:28, fill:O_fill, border:O_bord, dotc:O_dotc, bw:9, jw:1.0, ds:5});
notes(pO, [[0.25,122,'wt',{fontSize:10}],[6.9,122,'iPLA2γKO PIs',{fontSize:10,color:OLVT}]]);

// P
const P_fill=[null,null,null,BLK,'#00ffff','#00ffff','#00ffff',null,null,null,OLV,'#1a8fa0','#1a8fa0','#1a8fa0',null];
const P_bord=['#000','#000','#000','#000','#0099aa','#0099aa','#0099aa','#000','#000','#000','#444400','#0a5a6a','#0a5a6a','#0a5a6a','#000'];
const P_dotc=['#000','#000','#000','#b4b4aa','#1a9aa0','#1e9be8','#000','#000','#000','#000','#b4b4aa','#000','#1e9be8','#8c8c1c','#000'];
const pP = barPanel(522, 750, 187, 131, {cats:P_cats, mean:P_mean, err:P_err, dots:P_dots, ymax:130, yint:20, yticks:ATP_ticks,
  yname:'{b|Islet ATP} {i|(% FASIS)}', rich:atpRich, ygap:28, fill:P_fill, border:P_bord, dotc:P_dotc, bw:9, jw:1.0, ds:5});
notes(pP, [[3.2,123,'wt',{fontSize:10}],[9.36,87,'iPLA2γKO PIs',Object.assign({},VERT,{fontSize:10,color:OLVT})]],
  [[6.55,0.4,9.5,0.4,'#aaa',1,3]]);

// panel letters and outside labels
[['A',48,5],['B',303,5],['C',497,6],['D',47,184],['E',305,184],['F',495,184],['G',48,362],['H',305,362],['I',557,362],
 ['J',47,546],['K',305,544],['L',492,544],['M',697,538],['N',48,733],['O',306,733],['P',507,731]].forEach(a=>{
  graphics.push({type:'text', x:a[1], y:a[2], z:100, style:{text:a[0], fontSize:18, fontWeight:'bold', fontFamily:FONT, fill:'#000', align:'left', verticalAlign:'top'}});
});
[['Glutamine',553,717],['Glutamine',702,717]].forEach(a=>{
  graphics.push({type:'text', x:a[1], y:a[2], z:100, style:{text:a[0], fontSize:10, fontWeight:'bold', fontFamily:FONT, fill:'#000', align:'center', verticalAlign:'middle'}});
});

const chart = echarts.init(document.getElementById('c'), null, {renderer:'canvas'});
chart.setOption({animation:false, backgroundColor:'#fff', textStyle:{fontFamily:FONT},
  grid:grids, xAxis:xAxes, yAxis:yAxes, series:series, graphic:graphics});
</script></body></html>
